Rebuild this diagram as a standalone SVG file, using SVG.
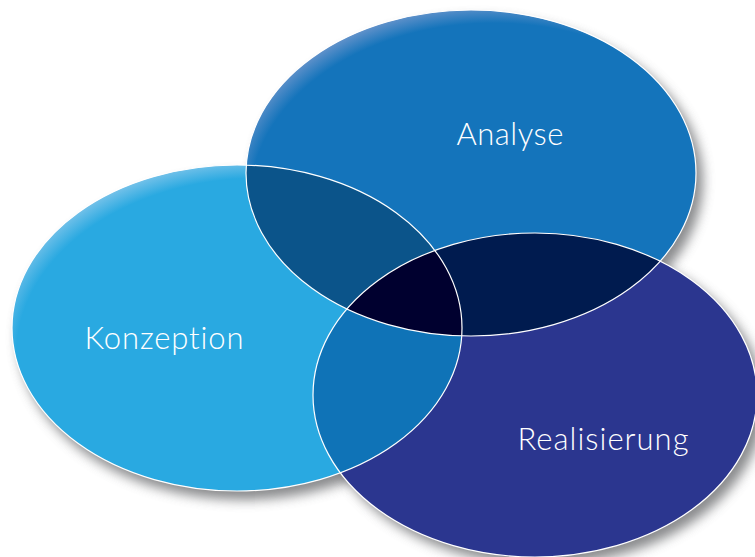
<svg xmlns="http://www.w3.org/2000/svg" width="755" height="557" viewBox="0 0 755 557">
<defs>
<style>
.lbl{font-family:"Lato","Liberation Sans",sans-serif;font-weight:300;font-size:31px;fill:#ffffff;text-anchor:middle;font-variant-ligatures:none;font-feature-settings:"liga" 0,"clig" 0}
.rim{fill:none;stroke:#ffffff;stroke-width:1.2}
.shadow{fill:#6d6e71;opacity:0.8;filter:url(#blur)}
</style>
<filter id="blur" x="-20%" y="-20%" width="140%" height="140%"><feGaussianBlur stdDeviation="6"/></filter>
<radialGradient id="gK" cx="0.55" cy="0.58" r="0.6"><stop offset="0.9" stop-color="#29a9e1"/><stop offset="1" stop-color="#7cc4ea"/></radialGradient>
<radialGradient id="gA" cx="0.55" cy="0.58" r="0.6"><stop offset="0.9" stop-color="#1474bb"/><stop offset="1" stop-color="#6a95cc"/></radialGradient>
<radialGradient id="gR" cx="0.55" cy="0.58" r="0.6"><stop offset="0.9" stop-color="#2b368f"/><stop offset="1" stop-color="#5f66aa"/></radialGradient>
<clipPath id="cK"><ellipse cx="237" cy="328" rx="225" ry="163"/></clipPath>
<clipPath id="cA"><ellipse cx="471" cy="173" rx="225" ry="163"/></clipPath>
<clipPath id="cR"><ellipse cx="535" cy="395" rx="222" ry="162"/></clipPath>
</defs>
<g id="shadows">
<ellipse class="shadow" cx="243" cy="337" rx="225" ry="163"/>
<ellipse class="shadow" cx="478" cy="181" rx="225" ry="163"/>
<ellipse class="shadow" cx="542" cy="403" rx="222" ry="162"/>
</g>
<g id="konzeption">
<ellipse cx="237" cy="328" rx="225" ry="163" fill="url(#gK)"/>
<text class="lbl" x="164" y="349" textLength="159" lengthAdjust="spacing">Konzeption</text>
</g>
<g id="analyse">
<ellipse cx="471" cy="173" rx="225" ry="163" fill="url(#gA)"/>
<text class="lbl" x="510" y="145" textLength="107" lengthAdjust="spacing">Analyse</text>
</g>
<g id="realisierung">
<ellipse cx="535" cy="395" rx="222" ry="162" fill="url(#gR)"/>
<text class="lbl" x="603" y="450" textLength="171" lengthAdjust="spacing">Realisierung</text>
</g>
<g id="overlaps">
<g clip-path="url(#cK)"><ellipse cx="471" cy="173" rx="225" ry="163" fill="#0b548a"/></g>
<g clip-path="url(#cK)"><ellipse cx="535" cy="395" rx="222" ry="162" fill="#0f73b7"/></g>
<g clip-path="url(#cA)"><ellipse cx="535" cy="395" rx="222" ry="162" fill="#001b4f"/></g>
<g clip-path="url(#cK)"><g clip-path="url(#cA)"><ellipse cx="535" cy="395" rx="222" ry="162" fill="#00002f"/></g></g>
</g>
<g id="outlines">
<ellipse class="rim" cx="237" cy="328" rx="225" ry="163"/>
<ellipse class="rim" cx="471" cy="173" rx="225" ry="163"/>
<ellipse class="rim" cx="535" cy="395" rx="222" ry="162"/>
</g>
</svg>
